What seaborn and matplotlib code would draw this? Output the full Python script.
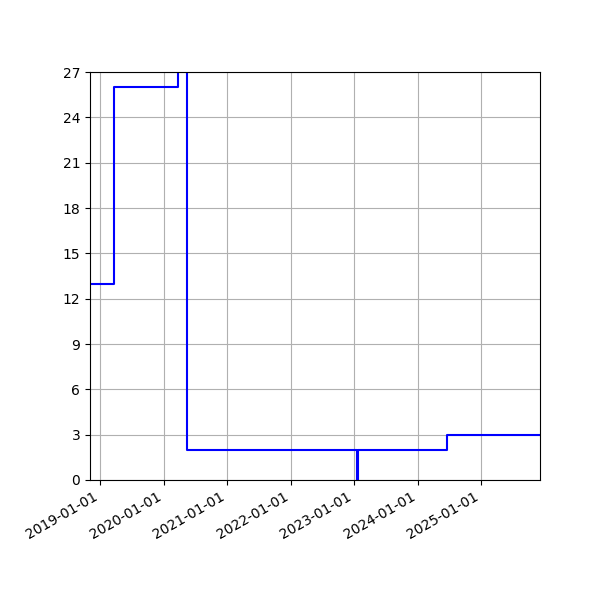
import pandas as pd
import seaborn as sns
import matplotlib
matplotlib.use("Agg")
import matplotlib.pyplot as plt
import matplotlib.dates as mdates
from matplotlib.ticker import MultipleLocator

# datos de la serie escalonada
fechas = ["2018-11-04", "2019-03-22", "2020-03-26", "2020-05-16",
          "2023-01-16", "2023-01-21", "2024-06-21", "2025-12-05"]
valores = [13, 26, 40, 2, 0, 2, 3, 3]

df = pd.DataFrame({"fecha": pd.to_datetime(fechas), "valor": valores})

fig, ax = plt.subplots(figsize=(6, 6), dpi=100)
sns.lineplot(data=df, x="fecha", y="valor", color="blue",
             drawstyle="steps-post", ax=ax)

ax.set_xlim(df["fecha"].min(), df["fecha"].max())
ax.set_ylim(0, 27)
ax.yaxis.set_major_locator(MultipleLocator(3))
ax.xaxis.set_major_locator(mdates.YearLocator())
ax.xaxis.set_major_formatter(mdates.DateFormatter("%Y-%m-%d"))
ax.set_xlabel("")
ax.set_ylabel("")
ax.grid(True)
fig.autofmt_xdate()
fig.subplots_adjust(left=0.15, right=0.9, top=0.88, bottom=0.2)

fig.savefig("out.png")
